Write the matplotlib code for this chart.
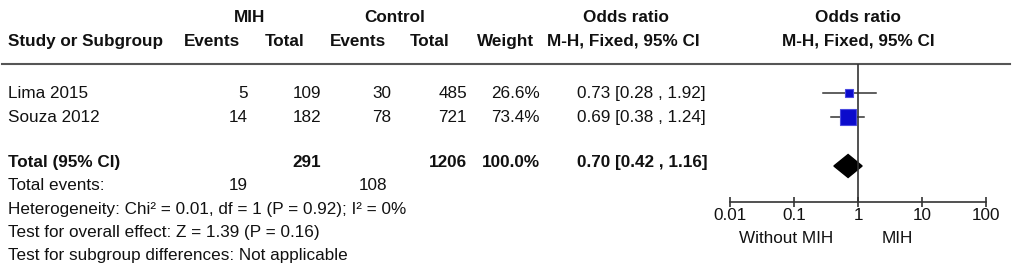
import matplotlib.pyplot as plt
import numpy as np

plt.rcParams['font.family'] = ['Liberation Sans', 'DejaVu Sans']

studies = ["Lima 2015", "Souza 2012"]
mih_events = [5, 14]
mih_total = [109, 182]
ctrl_events = [30, 78]
ctrl_total = [485, 721]
weights = [26.6, 73.4]
or_est = [0.73, 0.69]
or_lo = [0.28, 0.38]
or_hi = [1.92, 1.24]

tot_mih_total = 291
tot_ctrl_total = 1206
tot_weight = 100.0
tot_or, tot_lo, tot_hi = 0.70, 0.42, 1.16
tot_mih_events = 19
tot_ctrl_events = 108

foot_lines = ["Heterogeneity: Chi\u00b2 = 0.01, df = 1 (P = 0.92); I\u00b2 = 0%",
              "Test for overall effect: Z = 1.39 (P = 0.16)",
              "Test for subgroup differences: Not applicable"]

axis_ticks = [0.01, 0.1, 1, 10, 100]
axis_ticklabels = ["0.01", "0.1", "1", "10", "100"]
favours = ["Without MIH", "MIH"]

W, H = 1021, 278
fs = 12.3
fig = plt.figure(figsize=(W / 100, H / 100), dpi=100)

# table axes in pixel coordinates
tab = fig.add_axes([0, 0, 1, 1])
tab.set_xlim(0, W)
tab.set_ylim(H, 0)
tab.axis('off')

def txt(x, y, s, ha='left', bold=False):
    tab.text(x, y, s, ha=ha, va='center_baseline', fontsize=fs,
             fontweight='bold' if bold else 'normal', color='#111111')

# headers
txt(250, 16, "MIH", 'center', True)
txt(395, 16, "Control", 'center', True)
txt(626, 16, "Odds ratio", 'center', True)
txt(858, 16, "Odds ratio", 'center', True)
txt(8, 40, "Study or Subgroup", bold=True)
txt(212, 40, "Events", 'center', True)
txt(285, 40, "Total", 'center', True)
txt(358, 40, "Events", 'center', True)
txt(430, 40, "Total", 'center', True)
txt(506, 40, "Weight", 'center', True)
txt(623, 40, "M-H, Fixed, 95% CI", 'center', True)
txt(858, 40, "M-H, Fixed, 95% CI", 'center', True)
tab.plot([2, 1010], [64, 64], color='#555555', lw=1.5)

row_y = [92, 116]
for i, y in enumerate(row_y):
    txt(8, y, studies[i])
    txt(248, y, str(mih_events[i]), 'right')
    txt(321, y, str(mih_total[i]), 'right')
    txt(391, y, str(ctrl_events[i]), 'right')
    txt(467, y, str(ctrl_total[i]), 'right')
    txt(540, y, f"{weights[i]:.1f}%", 'right')
    txt(577, y, f"{or_est[i]:.2f} [{or_lo[i]:.2f} , {or_hi[i]:.2f}]")

ty = 161
txt(8, ty, "Total (95% CI)", bold=True)
txt(321, ty, str(tot_mih_total), 'right', True)
txt(467, ty, str(tot_ctrl_total), 'right', True)
txt(540, ty, f"{tot_weight:.1f}%", 'right', True)
txt(577, ty, f"{tot_or:.2f} [{tot_lo:.2f} , {tot_hi:.2f}]", bold=True)

txt(8, ty + 23.3, "Total events:")
txt(248, ty + 23.3, str(tot_mih_events), 'right')
txt(387, ty + 23.3, str(tot_ctrl_events), 'right')
for k, s in enumerate(foot_lines):
    txt(8, ty + 23.3 * (k + 2), s)

# forest plot axes, log scale, y in pixel rows
fx0, fx1 = 730, 986
ax = fig.add_axes([fx0 / W, 0, (fx1 - fx0) / W, 1])
ax.set_xscale('log')
ax.set_xlim(axis_ticks[0], axis_ticks[-1])
ax.set_ylim(H, 0)
ax.patch.set_alpha(0)
for s in ['top', 'left', 'right']:
    ax.spines[s].set_visible(False)
ax.spines['bottom'].set_position(('data', 202))
ax.spines['bottom'].set_color('#333333')
ax.spines['bottom'].set_linewidth(1.2)
ax.set_yticks([])
ax.set_xticks(axis_ticks)
ax.set_xticklabels(axis_ticklabels)
ax.xaxis.set_minor_locator(plt.NullLocator())
ax.tick_params(axis='x', direction='inout', length=7, width=1.2, color='#333333',
               labelsize=12.3, pad=1, labelcolor='#111111')

ax.vlines(1, 64, 202, color='#333333', lw=1.2)

for i, y in enumerate(row_y):
    ax.plot([or_lo[i], or_hi[i]], [y + 1, y + 1], color='#333333', lw=1.1)
    size_px = 3.3 + 0.186 * weights[i]
    ax.plot(or_est[i], y + 1, marker='s', ms=size_px * 0.72, color='#0b0bcc',
            mec='#4a4ae0', mew=0.8)

dy = 166
ax.fill([tot_lo, tot_or, tot_hi, tot_or], [dy, dy - 11.5, dy, dy + 11.5], color='black')

ax.text(0.075, 237, favours[0], ha='center', va='center_baseline', fontsize=fs, color='#111111')
ax.text(4.07, 237, favours[1], ha='center', va='center_baseline', fontsize=fs, color='#111111')

fig.savefig('out.png', dpi=100)
